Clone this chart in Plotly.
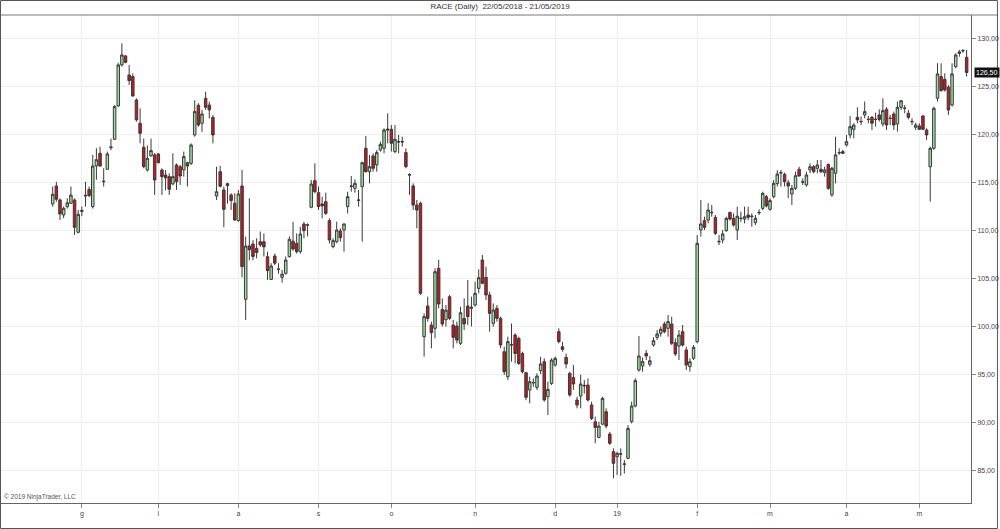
import plotly.graph_objects as go

# ---- data ----
opens = [112.78,114.65,113.2,111.63,112.5,112.85,113.2,109.82,112.0,113.6,
114.3,112.5,116.74,118.07,115.1,116.4,118.65,119.53,123.0,127.29,
128.23,126.24,126.07,123.63,121.2,118.7,116.33,117.8,117.9,118.0,
116.33,115.8,115.63,114.87,116.85,116.67,116.33,117.09,117.02,119.98,
123.08,121.2,123.81,123.1,121.82,113.61,116.15,114.24,114.7,113.72,
112.85,111.04,114.65,102.83,108.4,108.6,108.15,108.84,108.84,107.28,
104.9,107.35,106.0,105.12,105.54,107.28,108.9,108.67,107.8,110.69,
110.55,112.43,115.21,113.96,112.78,113.02,111.04,108.32,108.85,109.96,
110.06,112.5,114.6,114.41,113.15,114.58,118.59,116.15,117.79,116.85,
118.41,118.59,120.6,120.57,118.24,119.3,119.3,118.14,115.85,114.66,
112.67,112.85,98.93,102.13,100.14,99.8,106.06,101.78,100.7,103.1,
100.14,100.04,98.23,100.84,102.13,102.0,102.23,103.97,106.93,105.12,
103.28,100.32,101.88,100.84,97.36,94.75,98.1,99.1,98.75,97.18,
95.17,93.36,94.15,93.63,95.38,96.32,92.66,94.05,95.97,99.45,
97.88,96.77,95.1,94.68,92.32,92.73,93.85,93.88,91.8,90.05,
88.42,89.8,91.1,88.77,86.93,86.4,86.72,85.6,86.23,90.06,
91.69,95.45,95.87,97.19,96.04,98.06,98.86,99.28,100.25,99.8,
100.25,98.3,97.95,99.45,97.54,95.8,96.67,98.4,110.06,111.04,
111.1,111.85,111.38,108.88,109.02,109.99,111.9,111.28,110.06,111.25,
111.2,111.63,111.45,110.83,111.85,112.32,113.54,112.22,113.54,114.9,
116.0,115.87,115.0,113.82,114.41,116.4,115.05,114.76,116.33,116.67,
116.5,116.4,116.05,116.9,113.72,115.98,118.1,118.24,118.94,119.98,
120.57,121.82,121.4,122.07,121.62,121.82,121.62,122.07,121.13,122.66,
121.7,122.17,121.13,122.87,122.8,122.24,121.4,120.78,120.92,121.96,
120.5,116.67,118.59,123.81,126.07,125.79,124.96,123.11,127.11,128.65,
128.75,128.08]

highs = [114.6,115.1,113.37,112.5,113.37,114.6,113.37,112.15,112.5,115.1,
114.6,117.9,118.6,118.76,116.5,118.24,119.6,123.1,127.5,129.55,
128.33,127.29,126.4,123.8,122.76,119.6,118.9,119.6,118.1,118.07,
116.5,116.33,115.98,118.07,117.0,116.85,118.24,117.2,119.1,123.6,
123.3,122.6,124.5,123.46,122.07,116.67,116.74,114.6,115.0,113.9,
113.9,114.24,116.33,109.37,113.37,109.0,109.2,109.9,109.7,107.8,
106.6,107.6,106.6,105.9,107.3,109.4,110.93,109.7,110.4,110.93,
110.76,115.28,117.02,114.6,113.54,113.96,111.28,109.2,110.93,110.24,
110.76,114.06,115.7,115.35,114.24,117.2,119.88,117.9,118.07,118.41,
119.28,120.67,122.24,121.02,121.02,119.98,119.8,118.59,116.0,114.93,
113.2,113.02,101.36,103.1,100.5,106.06,106.93,102.93,102.23,103.28,
100.67,100.5,102.05,102.93,104.84,103.1,104.66,105.96,107.45,106.24,
103.62,102.4,102.23,101.02,97.88,98.93,100.3,99.28,98.93,97.36,
95.27,94.75,94.58,95.1,96.84,96.67,94.23,96.67,96.84,99.8,
98.4,97.18,95.27,95.97,92.66,94.96,94.4,94.58,92.15,90.58,
90.05,92.66,91.45,89.0,87.27,86.93,87.27,86.05,89.7,92.15,
94.58,99.0,96.77,97.54,96.91,98.86,99.62,99.97,100.5,101.19,
101.02,98.75,99.62,100.15,97.88,96.67,98.06,109.54,113.2,111.45,
112.85,112.67,111.63,109.54,110.06,111.45,111.97,111.8,112.5,111.97,
112.5,112.5,111.8,111.63,112.22,114.06,113.72,113.37,115.28,116.3,
116.33,116.05,115.3,114.76,116.15,116.67,115.45,116.15,117.02,116.85,
117.37,117.37,116.67,117.02,116.67,119.8,118.59,118.41,119.98,121.96,
121.2,122.87,121.9,123.46,121.96,121.96,122.31,122.66,123.81,122.87,
122.07,122.42,123.46,123.63,123.11,122.59,121.72,121.26,121.2,122.07,
120.67,118.76,122.94,127.46,127.46,126.42,125.2,127.46,128.5,128.85,
128.94,128.85]

lows = [112.5,113.0,111.1,111.3,112.3,112.8,109.54,109.7,111.5,112.5,
113.5,112.3,115.3,116.67,114.6,116.36,118.4,119.46,122.94,127.1,
127.46,125.2,123.98,121.37,119.11,116.5,116.15,117.7,113.72,117.0,
113.72,114.2,113.72,114.76,114.24,114.76,115.63,114.6,116.85,119.8,
120.85,120.3,122.6,121.7,119.1,113.2,114.5,110.34,112.8,112.15,
111.04,110.93,105.12,100.67,106.9,106.9,107.1,108.3,107.3,104.84,
104.84,106.4,105.5,104.57,105.4,107.2,107.9,107.6,107.6,109.2,
109.4,112.33,113.9,112.15,111.28,111.63,108.67,108.15,108.67,108.84,
107.8,111.8,114.06,113.96,112.5,108.85,116.05,114.93,116.15,116.15,
118.24,118.07,119.11,118.24,118.07,118.07,118.76,116.5,113.72,112.15,
110.24,103.28,96.84,100.5,97.71,98.75,101.88,100.0,99.97,100.67,
97.71,98.23,98.06,99.62,100.14,100.0,102.06,103.45,104.4,102.75,
99.45,99.97,100.5,97.71,94.93,94.4,96.32,96.14,95.97,95.1,
92.3,91.97,93.7,93.36,95.03,92.15,90.75,93.88,95.8,98.23,
97.36,95.62,92.66,93.36,91.45,91.45,93.0,92.15,90.23,87.8,
88.32,89.7,89.36,87.62,84.14,84.5,84.4,84.65,86.14,89.88,
91.55,95.27,95.27,96.49,95.8,97.88,98.58,98.93,99.28,98.93,
98.06,96.91,96.49,97.88,95.45,95.27,96.49,98.23,109.37,110.06,
110.76,111.45,109.54,108.5,108.67,109.88,111.04,110.41,109.02,110.93,
110.76,111.1,110.41,110.58,111.63,112.15,112.43,112.08,113.37,114.6,
114.6,114.6,113.37,112.67,114.24,115.63,114.76,114.58,115.98,115.98,
115.98,115.98,115.63,114.24,113.54,114.93,117.9,117.98,118.76,119.63,
119.63,121.2,121.02,121.72,121.2,120.5,120.85,121.37,120.85,120.5,
121.02,120.5,120.33,122.59,122.24,121.62,121.02,120.5,120.5,120.5,
119.46,113.02,118.41,123.46,124.5,124.5,122.07,122.94,126.94,128.15,
128.57,126.07]

closes = [113.79,113.27,111.73,112.33,112.9,113.7,110.34,111.7,112.1,113.68,
113.65,116.74,117.4,116.74,115.15,118.0,118.72,122.94,127.29,128.33,
127.56,125.65,124.05,121.55,120.15,116.67,117.54,118.35,115.28,117.09,
115.63,115.5,114.31,115.63,115.1,115.7,117.72,116.74,118.94,122.42,
121.02,122.17,122.87,122.6,119.98,114.06,114.63,112.22,114.9,113.13,
111.1,113.82,106.24,108.39,108.0,107.3,107.7,108.5,108.3,105.82,
106.3,106.6,105.95,105.46,106.93,109.09,108.08,107.8,109.64,109.99,
110.6,114.86,114.06,112.5,112.57,111.8,109.02,108.95,110.06,109.26,
110.69,113.54,114.66,114.93,113.19,117.09,116.15,116.67,116.5,118.14,
119.0,120.5,120.5,119.11,119.53,119.25,119.25,116.67,115.8,112.67,
112.15,103.45,101.02,100.84,99.35,105.71,102.34,100.25,101.7,100.84,
98.86,98.58,101.43,100.25,101.02,101.9,103.45,105.08,104.5,103.28,
101.36,101.71,100.84,98.06,95.27,98.41,98.06,97.18,96.14,95.27,
92.6,94.23,94.12,94.82,96.08,92.32,93.43,96.49,96.67,98.41,
97.6,96.08,92.84,93.99,91.8,93.99,93.8,92.32,90.4,89.46,
89.6,92.49,89.6,87.8,85.71,86.75,86.68,85.64,89.36,91.69,
94.34,96.91,96.32,96.91,96.42,98.51,99.21,99.7,99.45,100.5,
98.23,97.12,99.1,98.06,95.97,96.32,97.82,108.67,110.69,110.34,
112.15,111.9,109.71,108.84,109.65,111.28,111.2,110.58,111.5,111.28,
111.45,111.38,111.5,111.28,111.9,113.89,112.57,113.13,114.93,115.9,
116.05,115.1,114.65,114.41,115.73,115.7,115.1,115.8,116.67,116.15,
116.85,116.15,116.33,114.41,116.5,117.9,118.13,118.07,119.28,120.85,
121.02,121.55,121.37,122.42,121.6,121.2,121.6,121.6,122.52,121.02,
121.72,121.02,122.87,123.55,122.76,121.82,121.37,121.02,120.57,120.57,
119.98,118.59,122.76,126.35,124.61,124.68,122.59,126.35,128.33,128.5,
128.78,126.5]

bar_index = list(range(len(closes)))
month_tick_index = [8, 29, 51, 73, 93, 116, 138, 155, 177, 197, 218, 238]
month_tick_labels = ["g", "l", "a", "s", "o", "n", "d", "19", "f", "m", "a", "m"]
price_ticks = [85, 90, 95, 100, 105, 110, 115, 120, 125, 130]
last_price = closes[-1]
title_text = "RACE (Daily)  22/05/2018 - 21/05/2019"
copyright_text = "© 2019 NinjaTrader, LLC"

# ---- figure ----
W, H = 1000, 529
ML, MR, MT, MB = 1, 27, 15, 26
PW, PH = W - ML - MR, H - MT - MB

def px_x(p):
    return (p - ML) / PW

def px_y(p):
    return (H - MB - p) / PH

FONT = "Liberation Sans, Arial, sans-serif"

fig = go.Figure(go.Candlestick(
    x=bar_index, open=opens, high=highs, low=lows, close=closes,
    increasing=dict(fillcolor="#9ddf9d", line=dict(color="#3a3a3a", width=1)),
    decreasing=dict(fillcolor="#c8161d", line=dict(color="#3a3a3a", width=1)),
    whiskerwidth=0, hoverinfo="skip", showlegend=False,
))

fig.update_layout(
    width=W, height=H,
    margin=dict(l=ML, r=MR, t=MT, b=MB, pad=0),
    paper_bgcolor="white", plot_bgcolor="white",
    separators=",.",
    boxgap=0.02,
    font=dict(family=FONT, size=7, color="#444"),
    title=dict(text=title_text, x=0.5, xref="container", xanchor="center",
               y=1 - 6.5 / H, yref="container", yanchor="middle",
               font=dict(family=FONT, size=8, color="#333")),
    xaxis=dict(
        range=[-14.2, 252.2], rangeslider=dict(visible=False),
        tickmode="array", tickvals=month_tick_index, ticktext=month_tick_labels,
        ticks="outside", ticklen=4, tickcolor="#888",
        showgrid=True, gridcolor="#ededed", gridwidth=1,
        showline=True, linecolor="#666", linewidth=1,
        zeroline=False, tickfont=dict(size=7, color="#444"),
    ),
    yaxis=dict(
        range=[81.57, 132.5], side="right",
        tickmode="array", tickvals=price_ticks, tickformat=".2f",
        ticks="outside", ticklen=4, tickcolor="#888",
        showgrid=True, gridcolor="#ededed", gridwidth=1,
        showline=True, linecolor="#666", linewidth=1,
        zeroline=False, tickfont=dict(size=7, color="#444"),
    ),
    shapes=[
        dict(type="line", xref="paper", yref="paper",
             x0=px_x(0), x1=px_x(W), y0=1, y1=1,
             line=dict(color="#777", width=1)),
        dict(type="rect", xref="paper", yref="paper",
             x0=px_x(0.5), x1=px_x(W - 0.5), y0=px_y(H - 0.5), y1=px_y(0.5),
             line=dict(color="#555", width=1)),
    ],
    annotations=[
        dict(text=copyright_text, xref="paper", yref="paper",
             x=px_x(2), y=0, xanchor="left", yanchor="bottom", showarrow=False,
             font=dict(size=6.5, color="#555")),
        dict(text=f"{last_price:.2f}".replace(".", ","), xref="paper", yref="y",
             x=1, y=last_price, xanchor="left", yanchor="middle", xshift=3,
             showarrow=False, bgcolor="#111", borderpad=1,
             font=dict(size=7, color="white")),
    ],
)

fig.write_html("out.html",
               config={"displayModeBar": False, "staticPlot": True},
               post_script="document.body.style.margin='0';document.body.style.overflow='hidden';")
